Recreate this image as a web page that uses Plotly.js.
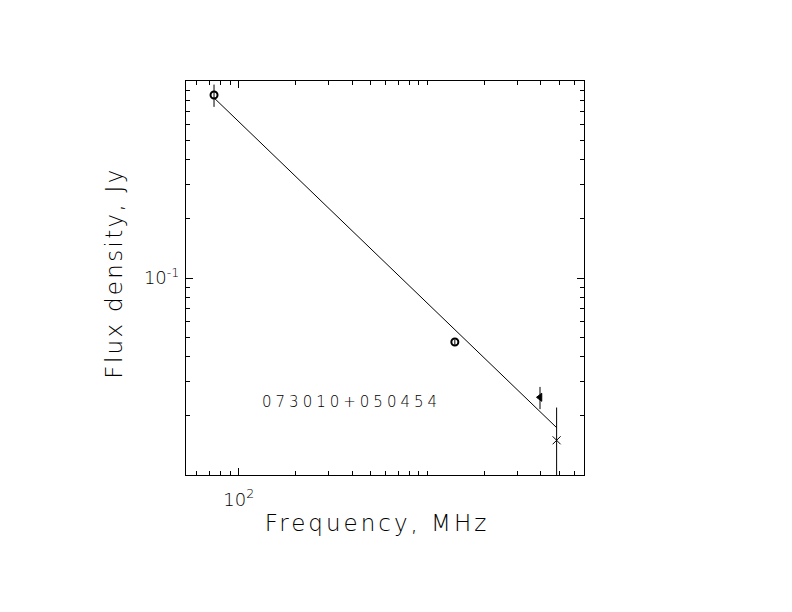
<!DOCTYPE html>
<html>
<head>
<meta charset="utf-8">
<script src="https://cdn.plot.ly/plotly-3.0.1.min.js"></script>
<style>
  html, body { margin: 0; padding: 0; background: #ffffff; }
  #chart { width: 792px; height: 612px; }
</style>
</head>
<body>
<div id="chart"></div>
<script>
// ---- Data ----
const sourceName = "073010+050454";
const freqMHz = [74, 1400, 3960, 4850];          // observed frequencies
const fluxJy = [0.849, 0.0473, 0.0248, 0.0150];  // flux densities
const fluxErrJy = [0.11, 0.0015, 0.0032, 0.007]; // symmetric errors
const fitFreqMHz = [74, 4850];                   // power-law fit end points
const fitFluxJy = [0.821, 0.0174];
const xTickVals = [100];
const xTickText = ["10<sup>2</sup>"];
const yTickVals = [0.1];
const yTickText = ["10<sup>-1</sup>"];

// minor tick positions (axis scaffolding)
function minorTicks(decStart, decEnd) {
  const out = [];
  for (let d = decStart; d <= decEnd; d++) {
    for (let m = 1; m <= 9; m++) {
      const v = m * Math.pow(10, d);
      if (m === 1 && (xTickVals.includes(v) || yTickVals.includes(v))) continue;
      out.push(v);
    }
  }
  return out;
}

const symbols = ["circle-open", "circle-open", "triangle-left", "x-thin-open"];
const sizes = [7, 7, 7, 8];
const lineWidths = [2, 2, 1, 1];

const traces = [{
  x: fitFreqMHz, y: fitFluxJy, type: "scatter", mode: "lines",
  line: {color: "black", width: 1}, hoverinfo: "skip", showlegend: false
}];
freqMHz.forEach((f, i) => {
  traces.push({
    x: [f], y: [fluxJy[i]], type: "scatter", mode: "markers",
    marker: {symbol: symbols[i], size: sizes[i], color: "black",
             line: {color: "black", width: lineWidths[i]}},
    error_y: {type: "data", array: [fluxErrJy[i]], visible: true,
              color: "black", thickness: 1, width: 0},
    showlegend: false
  });
});

const fontFam = "DejaVu Sans, sans-serif";
const axisCommon = {
  type: "log", showgrid: false, zeroline: false,
  showline: true, linecolor: "black", linewidth: 1, mirror: "ticks",
  ticks: "inside", ticklen: 7, tickwidth: 1, tickcolor: "black",
  tickmode: "array",
  tickfont: {family: fontFam, size: 18, color: "black", weight: 200},
  automargin: false
};

const layout = {
  width: 792, height: 612,
  paper_bgcolor: "white", plot_bgcolor: "white",
  margin: {l: 186, r: 208, t: 81, b: 137},
  showlegend: false,
  xaxis: Object.assign({}, axisCommon, {
    range: [1.7206, 3.831],
    tickvals: xTickVals, ticktext: xTickText,
    ticklabelstandoff: 8,
    minor: {tickmode: "array", tickvals: minorTicks(1, 3), ticks: "inside",
            ticklen: 4, tickwidth: 1, tickcolor: "black", showgrid: false},
    title: {text: "Frequency, MHz", standoff: 14,
            font: {family: fontFam, size: 23, color: "black", weight: 200}}
  }),
  yaxis: Object.assign({}, axisCommon, {
    range: [-2, 0],
    tickvals: yTickVals, ticktext: yTickText,
    ticklabelstandoff: 2,
    minor: {tickmode: "array", tickvals: minorTicks(-2, 0), ticks: "inside",
            ticklen: 4, tickwidth: 1, tickcolor: "black", showgrid: false},
    title: {text: "Flux density, Jy", standoff: 16,
            font: {family: fontFam, size: 23, color: "black", weight: 200}}
  }),
  annotations: [{
    text: sourceName, xref: "paper", yref: "paper", x: 0.417, y: 0.185,
    xanchor: "center", yanchor: "middle", showarrow: false,
    font: {family: fontFam, size: 15, color: "black", weight: 200}
  }]
};

Plotly.newPlot("chart", traces, layout, {staticPlot: true, displayModeBar: false}).then(() => {
  document.querySelectorAll(".g-xtitle text").forEach(t => {
    t.style.letterSpacing = "3px";
  });
  document.querySelectorAll(".g-ytitle text").forEach(t => {
    t.style.letterSpacing = "2.3px";
  });
  document.querySelectorAll(".annotation-text").forEach(t => {
    t.style.letterSpacing = "4px";
  });
  const gx = document.querySelector(".g-xtitle");
  if (gx) gx.setAttribute("transform", "translate(-8,-8)");
  const gy = document.querySelector(".g-ytitle");
  if (gy) gy.setAttribute("transform", "translate(2,-5)");
});
</script>
</body>
</html>
